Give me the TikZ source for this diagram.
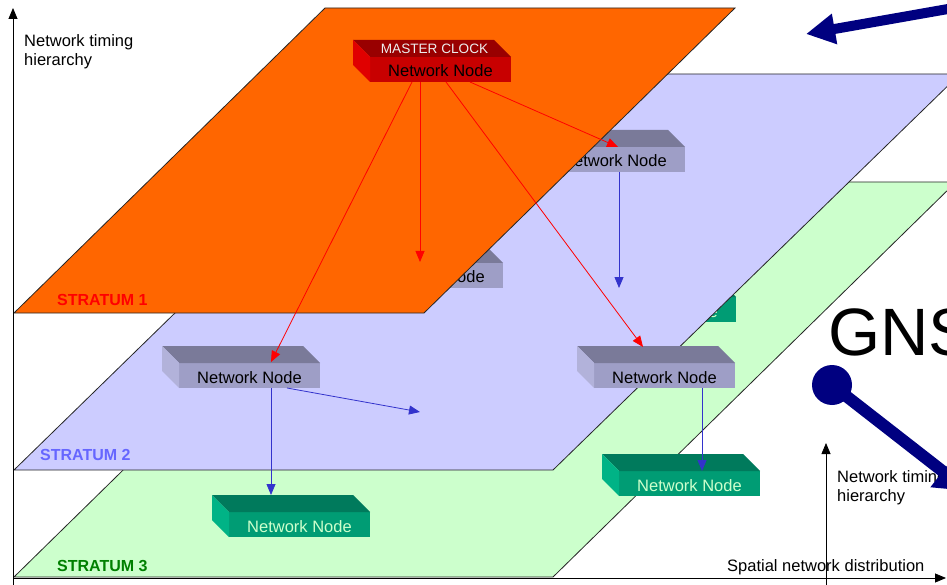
\documentclass[tikz,border=0pt]{standalone}
\usepackage{fontspec}
\setmainfont{Liberation Sans}
\usetikzlibrary{arrows.meta,calc}
\definecolor{plOrange}{HTML}{FF6600}
\definecolor{plLav}{HTML}{CCCCFF}
\definecolor{plGreen}{HTML}{CCFFCC}
\definecolor{rTop}{HTML}{990000}
\definecolor{rFront}{HTML}{C80000}
\definecolor{rLeft}{HTML}{E00000}
\definecolor{lTop}{HTML}{7A7A99}
\definecolor{lFront}{HTML}{9E9EC6}
\definecolor{lLeft}{HTML}{B2B2DA}
\definecolor{gTop}{HTML}{007A5C}
\definecolor{gFront}{HTML}{009C74}
\definecolor{gLeft}{HTML}{00B386}
\definecolor{gText}{HTML}{CCFFCC}
\definecolor{arBlue}{HTML}{3333CC}
\definecolor{navyB}{HTML}{000080}
\definecolor{st2}{HTML}{6666FF}
\definecolor{st3}{HTML}{008000}
\newcommand{\netbox}[7]{%
  \node[boxfront, fill=#5, text=#7, anchor=north west] (#1) at (#2,#3) {Network Node};
  \fill[#4] (#1.north west) -- (#1.north east) -- ++(-17,-17) -- ($(#1.north west)+(-17,-17)$) -- cycle;
  \fill[#6] (#1.north west) -- (#1.south west) -- ++(-17,-17) -- ($(#1.north west)+(-17,-17)$) -- cycle;
}
\begin{document}
\begin{tikzpicture}[x=1pt,y=-1pt,
  boxfront/.style={rectangle, minimum width=141pt, minimum height=25pt, inner sep=0pt, outer sep=0pt,
    text height=15pt, text depth=0pt, font=\fontsize{16.5}{19}\selectfont},
  plane/.style={draw=black!85, line width=0.8pt},
  redarrow/.style={draw=red, line width=0.8pt, -{Triangle[length=11pt,width=9pt]}},
  bluearrow/.style={draw=arBlue, line width=0.8pt, -{Triangle[length=11pt,width=9pt]}},
  axisarrow/.style={draw=black, line width=0.8pt, -{Triangle[length=11pt,width=9pt]}},
  lbl/.style={inner sep=0pt, anchor=base west, font=\fontsize{16.5}{19}\selectfont},
  stlbl/.style={inner sep=0pt, anchor=base west, font=\fontsize{16}{19}\selectfont\bfseries}
]
\useasboundingbox (0,0) rectangle (947,585);
\clip (0,0) rectangle (947,585);

% stratum 3
\path[plane, fill=plGreen] (14,577) -- (553,577) -- (956,182) -- (417,182) -- cycle;
\netbox{gA}{229}{512}{gTop}{gFront}{gLeft}{gText}
\netbox{gB}{619}{471}{gTop}{gFront}{gLeft}{gText}
\netbox{gC}{595}{297}{gTop}{gFront}{gLeft}{gText}

% stratum 2
\path[plane, fill=plLav] (14,470) -- (553,470) -- (960,74) -- (420,74) -- cycle;
\netbox{n1}{179}{363}{lTop}{lFront}{lLeft}{black}
\netbox{n2}{594}{363}{lTop}{lFront}{lLeft}{black}
\netbox{n3}{544}{147}{lTop}{lFront}{lLeft}{black}
\netbox{n4}{362}{263}{lTop}{lFront}{lLeft}{black}

\coordinate (t5) at (619,288);
\coordinate (t7) at (420,412);
\draw[bluearrow] ($(n3.south west)+(75,0)$) -- (t5);
\draw[bluearrow] ($(n1.south west)+(92,0)$) -- ($(gA.north west)+(42,-17)$);
\draw[bluearrow] ($(n1.south west)+(108,0)$) -- (t7);
\draw[bluearrow] ($(n2.south west)+(108,0)$) -- ($(gB.north west)+(83,0)$);

% stratum 1
\path[plane, fill=plOrange] (14,313) -- (424,313) -- (735,8) -- (325,8) -- cycle;
\netbox{mc}{370}{57}{rTop}{rFront}{rLeft}{black}
\node[inner sep=0pt, text=white!93!black, font=\fontsize{13.6}{15}\selectfont] (mctop) at ($(mc.north)+(-6,-8.5)$) {MASTER CLOCK};

\coordinate (t2) at (420,262);
\draw[redarrow] ($(mc.south west)+(42,0)$) -- ($(n1.north west)+(92,-1)$);
\draw[redarrow] ($(mc.south west)+(50,0)$) -- (t2);
\draw[redarrow] ($(mc.south west)+(76,0)$) -- ($(n2.north west)+(49,-16)$);
\draw[redarrow] ($(mc.south west)+(100,0)$) -- ($(n3.north west)+(74,0)$);

% stratum labels
\node[stlbl, text=red] (s1) at (57,305) {STRATUM 1};
\node[stlbl, text=st2] (s2) at (40,460) {STRATUM 2};
\node[stlbl, text=st3] (s3) at (57,571) {STRATUM 3};

% axes
\coordinate (ax0) at (13,585);
\coordinate (ax1) at (13,8);
\coordinate (ax2) at (13,578);
\coordinate (ax3) at (946,578);
\coordinate (ax4) at (826,590);
\coordinate (ax5) at (826,443);
\draw[axisarrow] (ax0) -- (ax1);
\draw[axisarrow] (ax2) -- (ax3);
\draw[axisarrow] (ax4) -- (ax5);
\node[lbl] (h1) at (24,47) {Network timing};
\node[lbl] (h2) at (24,66) {hierarchy};
\node[lbl] (h3) at (837,482) {Network timing};
\node[lbl] (h4) at (837,501) {hierarchy};
\node[lbl] (sp) at (727,571) {Spatial network distribution};

% GNSS (cut off at the right edge, as in the reference)
\node[inner sep=0pt, anchor=base west, font=\fontsize{67}{70}\selectfont] (gnss) at (828,355) {GNS};

% navy arrows
\coordinate (ta0) at (965,6);
\coordinate (ta1) at (806,34);
\draw[draw=navyB, line width=10pt, -{Triangle[length=29pt,width=29pt]}] (ta0) -- (ta1);
\node[circle, fill=navyB, minimum size=40pt, inner sep=0pt] (ant) at (832,385) {};
\coordinate (ta2) at (968,491);
\draw[draw=navyB, line width=12pt, -{Triangle[length=32pt,width=38pt]}] (ant.center) -- (ta2);
\end{tikzpicture}
\end{document}
